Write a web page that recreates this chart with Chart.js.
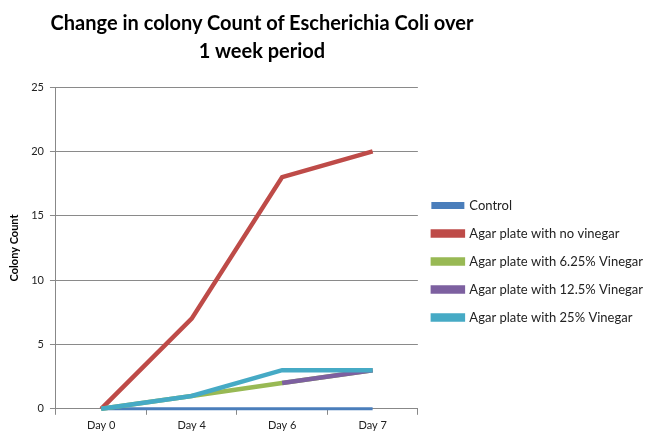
<!DOCTYPE html>
<html>
<head>
<meta charset="utf-8">
<script src="https://cdn.jsdelivr.net/npm/chart.js@4"></script>
<style>
  html, body { margin:0; padding:0; background:#fff; }
  #wrap { position:relative; width:655px; height:438px; }
  #title {
    position:absolute; left:12px; width:500px; top:8px;
    text-align:center; white-space:nowrap;
    font-family:Lato, "Open Sans", sans-serif;
    font-weight:bold; font-size:20px; line-height:28px; color:#000;
  }
  canvas { position:absolute; left:0; top:0; }
</style>
</head>
<body>
<div id="wrap">
  <canvas id="chart" width="655" height="438"></canvas>
  <div id="title">Change in colony Count of Escherichia Coli over<br>1 week period</div>
</div>
<script>
// ── Data ──────────────────────────────────────────
const DAYS = ["Day 0", "Day 4", "Day 6", "Day 7"];
const CONTROL = [0, 0, 0, 0];
const NO_VINEGAR = [0, 7, 18, 20];
const VINEGAR_625 = [0, 1, 2, 3];
const VINEGAR_125 = [null, null, 2, 3];   // only visible from Day 6 in the source
const VINEGAR_25 = [0, 1, 3, 3];

const SERIES = [
  { label:"Control", data:CONTROL, color:"#4a7ebb" },
  { label:"Agar plate with no vinegar", data:NO_VINEGAR, color:"#be4b48" },
  { label:"Agar plate with 6.25% Vinegar", data:VINEGAR_625, color:"#98b954" },
  { label:"Agar plate with 12.5% Vinegar", data:VINEGAR_125, color:"#7d60a0" },
  { label:"Agar plate with 25% Vinegar", data:VINEGAR_25, color:"#46aac5" },
];

const FONT = "Lato, 'Open Sans', sans-serif";

// ── Chart ─────────────────────────────────────────
function draw() {
  new Chart(document.getElementById("chart"), {
    type: "line",
    data: {
      labels: DAYS,
      datasets: SERIES.map((s, i) => ({
        label: s.label,
        data: s.data,
        borderColor: s.color,
        backgroundColor: s.color,
        borderWidth: i === 0 ? 3 : 4.5,
        pointRadius: 0,
        tension: 0,
        clip: 6,
        order: SERIES.length - i,   // later series drawn on top, like Excel
      })),
    },
    options: {
      responsive: false,
      animation: false,
      devicePixelRatio: 1,
      layout: { padding: { top: 87, left: 4, right: 2, bottom: 2 } },
      plugins: {
        title: { display: false },
        tooltip: { enabled: false },
        legend: {
          position: "right",
          align: "center",
          maxWidth: 300,
          labels: {
            boxWidth: 30,
            boxHeight: 4,
            padding: 15,
            color: "#222",
            font: { family: FONT, size: 13 },
            sort: (a, b) => a.datasetIndex - b.datasetIndex,
          },
        },
      },
      scales: {
        x: {
          offset: true,
          grid: { display: true, drawOnChartArea: false, offset: true, color: "#888", tickLength: 6 },
          border: { color: "#888" },
          ticks: { color: "#222", font: { family: FONT, size: 11 }, padding: 4 },
        },
        y: {
          min: 0, max: 25,
          ticks: { stepSize: 5, color: "#222", font: { family: FONT, size: 11 }, padding: 6 },
          grid: { color: "#8a8a8a", tickLength: 6 },
          border: { color: "#888" },
          title: { display: true, text: "Colony Count", color: "#000", font: { family: FONT, size: 11, weight: "bold" } },
        },
      },
    },
  });
}

Promise.all([
  document.fonts.load("12px Lato"),
  document.fonts.load("bold 12px Lato"),
]).then(draw, draw);
</script>
</body>
</html>
